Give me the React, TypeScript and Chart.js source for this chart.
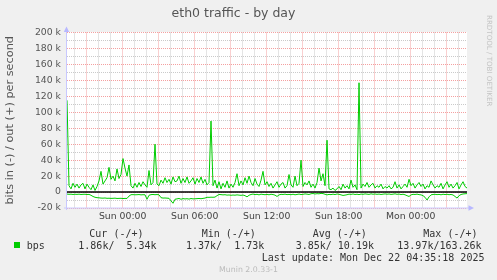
import React, { useEffect, useRef } from 'react';
import { Chart, registerables } from 'chart.js';

Chart.register(...registerables);

// time axis: hours counted from Sat 00:00, one sample every 10 minutes
const START_HOUR = 19.36;
const STEP_HOURS = 1 / 6;

// out (+) in kbit/s
const outKbps = [
  115, 8, 4, 11, 6, 10, 5, 9, 11, 4,
  10, 6, 3, 9, 2, 7, 14, 26, 10, 14,
  18, 31, 16, 20, 14, 29, 17, 22, 42, 30,
  20, 34, 8, 5, 11, 6, 12, 7, 13, 9,
  6, 27, 9, 12, 60, 10, 8, 15, 11, 18,
  12, 16, 10, 19, 13, 14, 20, 11, 17, 12,
  19, 11, 14, 18, 10, 17, 12, 19, 11, 16,
  9, 12, 89, 8, 15, 5, 13, 4, 11, 6,
  14, 5, 10, 6, 12, 23, 8, 14, 9, 18,
  11, 20, 12, 8, 17, 10, 7, 15, 26, 9,
  13, 7, 11, 5, 9, 13, 6, 10, 12, 5,
  8, 22, 9, 6, 20, 8, 11, 40, 7, 12,
  9, 14, 6, 10, 5, 12, 30, 14, 23, 8,
  65, 4, 3, 5, 2, 4, 7, 3, 10, 5,
  8, 4, 15, 6, 9, 3, 137, 5, 10, 7,
  12, 6, 9, 11, 5, 8, 6, 10, 4, 7,
  5, 8, 4, 6, 13, 5, 9, 4, 7, 10,
  6, 16, 8, 11, 5, 9, 12, 7, 10, 4,
  8, 6, 14, 9, 5, 8, 6, 11, 4, 9,
  13, 6, 10, 5, 8, 12, 4, 9, 13, 7,
  5,
];

// in (-) in kbit/s (drawn below zero)
const inKbps = [
  2.5, 2.8, 2.6, 3, 2.7, 2.9, 2.6, 3, 2.8, 2.7, 3.1, 2.9,
  4, 5.5, 6.5, 7,
  7.2, 7.5, 7.6, 7.4, 7.8, 7.7, 7.9, 7.8, 7.6, 8, 7.9, 7.8, 8.1, 7.9, 8,
  5, 3.3,
  3.2, 3.4, 3.3, 3.1, 3.5, 3.3, 3.4,
  9, 4,
  3.2, 3, 3.3, 3.1, 3.4,
  7,
  7.5, 7.4, 7.6, 7.8,
  11, 14, 9,
  8.5, 8, 9, 8.2, 8.6, 8.3, 8.8, 8.1, 8.5, 8.4, 8.2, 8, 8.3, 7.9, 7.5,
  6.5, 6.6, 6.4, 6.5, 6.3,
  4.5, 3,
  3.2, 3.5, 3.3, 3.8, 3.6, 4, 3.7, 3.9, 3.5, 3.8, 4.1, 3.7, 4.5,
  6, 4,
  3, 2.5, 3.2, 2.8, 3.5, 2.6, 3, 3.3, 2.9, 3.4, 2.7, 3.1, 3.8,
  5.5, 3.5,
  2.8, 3, 2.6, 3.2, 2.9, 3.3, 2.7, 3.4, 3, 2.5,
  3.1, 2.8, 2.3, 2.6, 3, 2.1, 1.8, 2.4, 2, 2.2,
  1.6, 1.9, 2.7, 3.5, 2.9, 3.2, 2.6, 3.1, 2.4, 2.8,
  3.5, 4.2, 3.8, 3.3,
  2.6, 2.9, 2.4, 3, 2.7, 3.2, 2.5, 2.8, 2.3, 2.6,
  2.9, 2.2, 2.7, 2.4, 2.8, 2.5, 3, 2.6, 2.3, 2.7,
  2.4, 2.9, 2.6, 2.2, 2.8, 2.5, 3.1, 2.7, 3.4, 4.5,
  5.5, 3.5,
  2.8, 3, 2.6, 3.2, 3.5, 4.5,
  6.5, 10, 6,
  3.5, 3, 2.8, 3.2, 2.9, 3.4, 2.7, 3.1, 2.8, 3.3, 3, 3.6,
  5.5, 7.5, 4.5,
  3, 2.4, 2.1, 1.9,
];

const X_MIN = 19.36;
const X_MAX = 52.69;
const xLabelHours = [24, 30, 36, 42, 48];
const xLabelTexts = ['Sun 00:00', 'Sun 06:00', 'Sun 12:00', 'Sun 18:00', 'Mon 00:00'];
const Y_MIN = -20;
const Y_MAX = 200;
const Y_STEP = 10;

const legendHeaders = ['Cur (-/+)', 'Min (-/+)', 'Avg (-/+)', 'Max (-/+)'];
const legendValues = ['1.86k/  5.34k', '1.37k/  1.73k', '3.85k/ 10.19k', '13.97k/163.26k'];
const seriesName = 'bps';
const lastUpdate = 'Last update: Mon Dec 22 04:35:18 2025';
const titleText = 'eth0 traffic - by day';
const yTitle = 'bits in (-) / out (+) per second';
const watermark = 'RRDTOOL / TOBI OETIKER';
const footer = 'Munin 2.0.33-1';

const GREEN = '#00cc00';
const MAJOR = '#f4a0a0';
const MINOR = '#cacaca';

const rrdPlugin = {
  id: 'rrdStyle',
  beforeDraw(chart: any) {
    const { ctx, chartArea: a } = chart;
    ctx.save();
    ctx.fillStyle = '#ffffff';
    ctx.fillRect(a.left, a.top - 0.5, a.right - a.left, a.bottom - a.top + 0.5);
    ctx.restore();
  },
  beforeDatasetsDraw(chart: any) {
    const { ctx, chartArea: a } = chart;
    ctx.save();
    const ax = a.left - 0.5;
    ctx.strokeStyle = '#c8c8ff';
    ctx.lineWidth = 1;
    ctx.beginPath();
    ctx.moveTo(ax, a.bottom + 2);
    ctx.lineTo(ax, a.top - 4);
    ctx.moveTo(a.left - 3, a.bottom);
    ctx.lineTo(a.right + 2, a.bottom);
    ctx.stroke();
    ctx.fillStyle = '#b8b8ff';
    ctx.beginPath();
    ctx.moveTo(ax, a.top - 6);
    ctx.lineTo(ax - 2.7, a.top - 0.5);
    ctx.lineTo(ax + 2.7, a.top - 0.5);
    ctx.closePath();
    ctx.fill();
    ctx.beginPath();
    ctx.moveTo(a.right + 7, a.bottom);
    ctx.lineTo(a.right + 1.5, a.bottom - 2.7);
    ctx.lineTo(a.right + 1.5, a.bottom + 2.7);
    ctx.closePath();
    ctx.fill();
    ctx.restore();
  },
  afterDatasetsDraw(chart: any) {
    const { ctx, chartArea: a, scales } = chart;
    const y0 = scales.y.getPixelForValue(0);
    ctx.save();
    ctx.strokeStyle = '#000000';
    ctx.lineWidth = 1.5;
    ctx.beginPath();
    ctx.moveTo(a.left, y0);
    ctx.lineTo(a.right, y0);
    ctx.stroke();
    ctx.restore();
  },
};

export default function App() {
  const ref = useRef<HTMLCanvasElement | null>(null);

  useEffect(() => {
    if (!ref.current) return;
    Chart.defaults.font.family = "'DejaVu Sans', sans-serif";
    const outData = outKbps.map((v, i) => ({ x: START_HOUR + i * STEP_HOURS, y: v }));
    const inData = inKbps.map((v, i) => ({ x: START_HOUR + i * STEP_HOURS, y: -v }));
    const chart = new Chart(ref.current, {
      type: 'line',
      data: {
        datasets: [
          { label: 'in', data: inData, borderColor: GREEN, borderWidth: 1, pointRadius: 0, fill: false, tension: 0 },
          { label: 'out', data: outData, borderColor: GREEN, borderWidth: 1, pointRadius: 0, fill: false, tension: 0 },
        ],
      },
      options: {
        animation: false,
        responsive: false,
        devicePixelRatio: 1,
        events: [],
        layout: { padding: { left: 0, right: 30, top: 0, bottom: 55.8 } },
        plugins: {
          legend: { display: false },
          tooltip: { enabled: false },
          title: {
            display: true,
            text: titleText,
            color: '#555555',
            font: { size: 12.5, weight: 'normal' },
            padding: { top: 6, bottom: 11.5 },
          },
        },
        scales: {
          x: {
            type: 'linear',
            min: X_MIN,
            max: X_MAX,
            border: { display: false, dash: [1, 1] },
            grid: {
              drawTicks: false,
              color: (c: any) => (c.tick && c.tick.value % 3 === 0 ? MAJOR : MINOR),
            },
            ticks: {
              stepSize: 1,
              autoSkip: false,
              includeBounds: false,
              maxRotation: 0,
              padding: 2.5,
              color: '#444444',
              font: { size: 9.3 },
              callback: (v: any) => {
                const idx = xLabelHours.indexOf(Number(v));
                return idx >= 0 ? xLabelTexts[idx] : '';
              },
            },
          },
          y: {
            min: Y_MIN,
            max: Y_MAX,
            afterFit: (s: any) => {
              s.width = 67;
            },
            border: { display: false, dash: [1, 1] },
            grid: {
              drawTicks: false,
              color: (c: any) => (c.tick && c.tick.value % 20 === 0 ? MAJOR : MINOR),
            },
            title: {
              display: true,
              text: yTitle,
              color: '#555555',
              font: { size: 11.3 },
              padding: { top: 3.7, bottom: 0 },
            },
            ticks: {
              stepSize: Y_STEP,
              autoSkip: false,
              includeBounds: false,
              padding: 6,
              color: '#555555',
              font: { size: 9.3 },
              callback: (v: any) => {
                const n = Number(v);
                if (n % 20 !== 0) return '';
                return n === 0 ? '0' : `${n} k`;
              },
            },
          },
        },
      },
      plugins: [rrdPlugin],
    } as any);
    return () => chart.destroy();
  }, []);

  const headerLefts = [89.3, 201.7, 312.7, 423.3];
  const valueLefts = [78.3, 186, 295.7, 397.3];
  const mono: React.CSSProperties = {
    position: 'absolute',
    fontFamily: "'DejaVu Sans Mono', monospace",
    fontSize: 10,
    lineHeight: '10px',
    whiteSpace: 'pre',
    color: '#333333',
  };

  return (
    <div style={{ position: 'fixed', left: 0, top: 0, width: 497, height: 280, background: '#f0f0f0', overflow: 'hidden' }}>
      <canvas ref={ref} width={497} height={280} style={{ position: 'absolute', left: 0, top: 0, width: 497, height: 280 }} />
      <div
        style={{
          position: 'absolute',
          left: 484.7,
          top: 15,
          writingMode: 'vertical-rl',
          fontFamily: "'DejaVu Sans', sans-serif",
          fontSize: 7.1,
          lineHeight: '8px',
          color: '#c4c4c4',
          whiteSpace: 'pre',
        }}
      >
        {watermark}
      </div>
      {legendHeaders.map((h, i) => (
        <div key={'h' + i} style={{ ...mono, left: headerLefts[i], top: 228.5 }}>{h}</div>
      ))}
      <div style={{ position: 'absolute', left: 14, top: 242, width: 6, height: 6, background: GREEN }} />
      <div style={{ ...mono, left: 26.7, top: 240.5 }}>{seriesName}</div>
      {legendValues.map((v, i) => (
        <div key={'v' + i} style={{ ...mono, left: valueLefts[i], top: 240.5 }}>{v}</div>
      ))}
      <div style={{ ...mono, left: 261.7, top: 252.9 }}>{lastUpdate}</div>
      <div
        style={{
          position: 'absolute',
          left: 0,
          width: 497,
          top: 265.6,
          textAlign: 'center',
          fontFamily: "'DejaVu Sans', sans-serif",
          fontSize: 7.8,
          lineHeight: '7.8px',
          color: '#bbbbbb',
          whiteSpace: 'pre',
        }}
      >
        {footer}
      </div>
    </div>
  );
}
